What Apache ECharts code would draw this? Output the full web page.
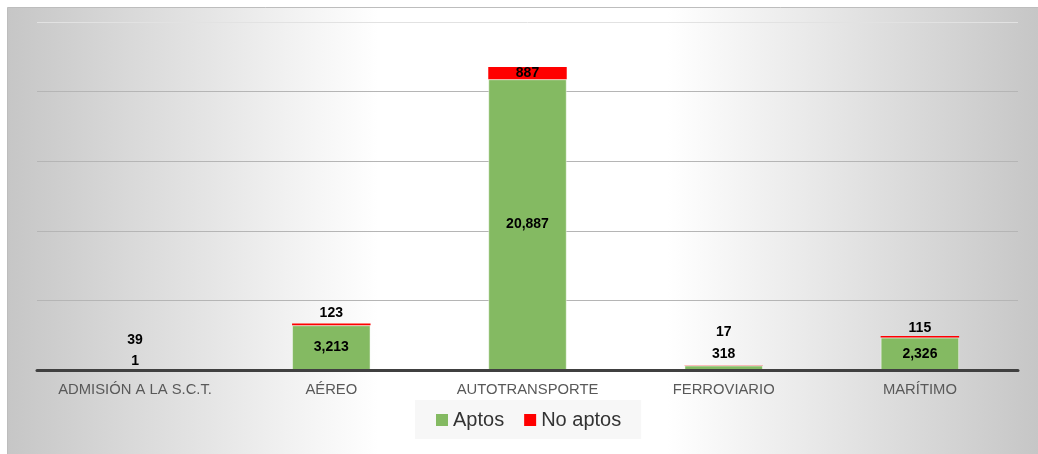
<!DOCTYPE html>
<html>
<head>
<meta charset="utf-8">
<script src="https://cdn.jsdelivr.net/npm/echarts@6/dist/echarts.min.js"></script>
<style>
  html, body { margin: 0; padding: 0; background: #fff; }
  #chart { width: 1038px; height: 454px; }
</style>
</head>
<body>
<div id="chart"></div>
<script>
const categories = ['ADMISIÓN A LA S.C.T.', 'AÉREO', 'AUTOTRANSPORTE', 'FERROVIARIO', 'MARÍTIMO'];
const aptos = [1, 3213, 20887, 318, 2326];
const noAptos = [39, 123, 887, 17, 115];
const yTicks = [0, 5000, 10000, 15000, 20000, 25000];

// dónde va cada etiqueta (como en el original de Excel, ajustadas a mano)
const aptosLabelPos = [
  { position: 'top', distance: 1 },
  null,
  null,
  { position: 'top', distance: 4 },
  null
];
const noAptosLabelPos = [
  { position: 'top', distance: 22 },
  { position: 'top', distance: 3 },
  { position: 'inside' },
  { position: 'top', distance: 26 },
  { position: 'top', distance: 1 }
];

const fmt = v => v.toLocaleString('en-US');

const chart = echarts.init(document.getElementById('chart'));

const labelBase = {
  show: true,
  color: '#000',
  fontWeight: 'bold',
  fontSize: 14,
  fontFamily: 'Liberation Sans, Arial, sans-serif',
  formatter: p => fmt(p.value)
};

chart.setOption({
  animation: false,
  graphic: [
    {
      type: 'rect',
      left: 7, top: 7,
      shape: { width: 1031, height: 447 },
      style: {
        fill: new echarts.graphic.LinearGradient(0, 0, 1, 0, [
          { offset: 0, color: '#c6c6c6' },
          { offset: 0.36, color: '#ffffff' },
          { offset: 0.64, color: '#ffffff' },
          { offset: 1, color: '#c6c6c6' }
        ]),
        stroke: '#bdbdbd',
        lineWidth: 1
      },
      z: -10
    }
  ],
  grid: { left: 37, right: 20, top: 22, bottom: 84 },
  legend: {
    data: ['Aptos', 'No aptos'],
    left: 415,
    top: 400,
    backgroundColor: '#f7f7f7',
    padding: [10, 20, 9, 21],
    itemWidth: 12,
    itemHeight: 12,
    itemGap: 20,
    icon: 'rect',
    itemStyle: { borderWidth: 0 },
    textStyle: { fontSize: 20, color: '#333', fontFamily: 'Liberation Sans, Arial, sans-serif' }
  },
  xAxis: {
    type: 'category',
    data: categories,
    z: 5,
    axisLine: { lineStyle: { color: '#404040', width: 3 } },
    axisTick: { show: false },
    axisLabel: { interval: 0, color: '#595959', fontSize: 14.8, margin: 12, fontFamily: 'Liberation Sans, Arial, sans-serif' }
  },
  yAxis: {
    type: 'value',
    min: yTicks[0],
    max: yTicks[yTicks.length - 1],
    interval: yTicks[1] - yTicks[0],
    axisLabel: { show: false },
    axisLine: { show: false },
    axisTick: { show: false },
    splitLine: {
      lineStyle: {
        color: ['#bfbfbf', '#b5b5b5', '#b5b5b5', '#b5b5b5', '#b5b5b5', '#e2e2e2'],
        width: 1
      }
    }
  },
  series: [
    {
      name: 'Aptos',
      type: 'bar',
      stack: 'total',
      barWidth: '40%',
      itemStyle: { color: '#84ba62', borderColor: 'rgba(255,255,255,0.45)', borderWidth: 1 },
      label: Object.assign({ position: 'inside' }, labelBase),
      data: aptos.map((v, i) => aptosLabelPos[i]
        ? { value: v, label: aptosLabelPos[i] }
        : v)
    },
    {
      name: 'No aptos',
      type: 'bar',
      stack: 'total',
      barWidth: '40%',
      itemStyle: { color: '#ff0000' },
      label: Object.assign({ position: 'top' }, labelBase),
      data: noAptos.map((v, i) => ({ value: v, label: noAptosLabelPos[i] }))
    }
  ]
});
</script>
</body>
</html>
